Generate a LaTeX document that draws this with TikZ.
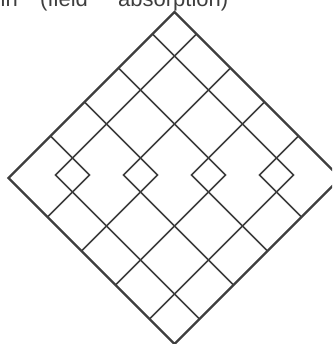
\documentclass[tikz,border=0pt]{standalone}
\usepackage{fontspec}
\setmainfont{Liberation Sans}
\definecolor{ink}{HTML}{3E3E3E}
\begin{document}
\begin{tikzpicture}[
  outline/.style={draw=ink, line width=2.3pt, line join=miter},
  gridline/.style={draw=ink, line width=1.7pt, line join=miter},
  caption/.style={text=ink, font=\fontsize{22}{24}\selectfont, inner sep=0pt, anchor=base west}
]
\useasboundingbox (0pt,0pt) rectangle (332pt,-344pt);
\clip (0pt,0pt) rectangle (332pt,-344pt);
\node[caption] (w1) at (0.5pt,-7pt) {in};
\node[caption] (w2) at (40pt,-7pt) {(field};
\node[caption] (w3) at (118pt,-7pt) {absorption)};
\begin{scope}[x={(-1pt,-1pt)}, y={(1pt,-1pt)}, shift={(174.5pt,-12pt)}]
  \def\S{166}
  % upper lines: s = u_i, turning into lower t = l_{3-i}
  \foreach \u/\l in {22/141, 56/107, 90/73, 124/39}{
    \draw[gridline] (\u,0) -- (\u,\l) -- (\S,\l);
    \draw[gridline] (0,\u) -- (\l,\u) -- (\l,\S);
  }
  \draw[outline] (0,0) -- (\S,0) -- (\S,\S) -- (0,\S) -- cycle;
\end{scope}
\end{tikzpicture}
\end{document}
